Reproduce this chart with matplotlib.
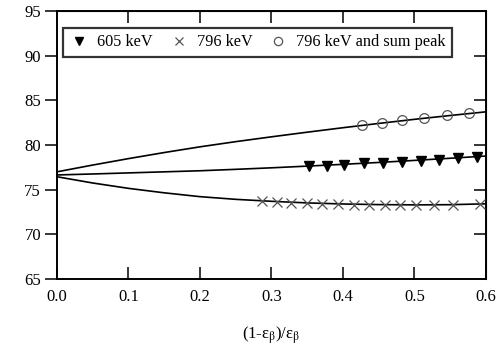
import matplotlib
matplotlib.use("Agg")
import matplotlib.pyplot as plt

plt.rcParams['font.family'] = ['Liberation Serif', 'DejaVu Serif']
plt.rcParams['mathtext.fontset'] = 'stix'

# fitted curves
curva_x = [0.0, 0.05, 0.1, 0.15, 0.2, 0.25, 0.3, 0.35, 0.4, 0.45, 0.5, 0.55, 0.6]
curva_suma = [77.0, 77.76, 78.48, 79.16, 79.8, 80.38, 80.92, 81.44, 81.94, 82.42, 82.88, 83.31, 83.72]
curva_605 = [76.65, 76.76, 76.88, 77.0, 77.12, 77.28, 77.45, 77.64, 77.84, 78.05, 78.28, 78.52, 78.77]
curva_796 = [76.45, 75.75, 75.15, 74.65, 74.22, 73.92, 73.7, 73.52, 73.4, 73.33, 73.3, 73.32, 73.42]

# measured points
x_605 = [0.352, 0.377, 0.402, 0.429, 0.456, 0.482, 0.509, 0.535, 0.561, 0.588]
y_605 = [77.6, 77.65, 77.75, 77.95, 78.02, 78.13, 78.24, 78.32, 78.5, 78.62]

x_796 = [0.287, 0.308, 0.327, 0.350, 0.370, 0.393, 0.416, 0.437, 0.459, 0.480, 0.502, 0.528, 0.554, 0.592]
y_796 = [73.77, 73.65, 73.55, 73.47, 73.43, 73.38, 73.34, 73.31, 73.29, 73.28, 73.28, 73.28, 73.27, 73.36]

x_suma = [0.427, 0.4545, 0.483, 0.514, 0.545, 0.576]
y_suma = [82.24, 82.5, 82.8, 83.06, 83.33, 83.62]

fig = plt.figure(figsize=(5.02, 3.47), dpi=100)
ax = fig.add_axes([0.1135, 0.196, 0.8545, 0.772])

for cy in (curva_suma, curva_605, curva_796):
    ax.plot(curva_x, cy, color='black', lw=1.2, zorder=2)

ax.plot(x_605, y_605, 'v', color='black', ms=7, ls='none', label='605 keV', zorder=3)
ax.plot(x_796, y_796, 'x', color='#555555', ms=7, mew=0.9, ls='none', label='796 keV', zorder=3)
ax.plot(x_suma, y_suma, 'o', mfc='none', mec='#555555', ms=7, mew=0.9, ls='none',
        label='796 keV and sum peak', zorder=3)

ax.set_xlim(0, 0.6)
ax.set_ylim(65, 95)
ax.set_xticks([0.0, 0.1, 0.2, 0.3, 0.4, 0.5, 0.6])
ax.set_yticks([65, 70, 75, 80, 85, 90, 95])
ax.set_xticklabels(['0.0', '0.1', '0.2', '0.3', '0.4', '0.5', '0.6'])

for s in ax.spines.values():
    s.set_linewidth(1.4)

ax.tick_params(axis='x', direction='in', length=8.5, width=1.1, labelsize=12, pad=7)
ax.tick_params(axis='y', direction='out', length=8.5, width=1.1, labelsize=12, pad=3)

arriba = ax.secondary_xaxis('top')
arriba.set_xticks([0.1, 0.2, 0.3, 0.4, 0.5])
arriba.tick_params(direction='in', length=8.5, width=1.1, labeltop=False)
derecha = ax.secondary_yaxis('right')
derecha.set_yticks([70, 75, 80, 85, 90])
derecha.tick_params(direction='in', length=8.5, width=1.1, labelright=False)

ax.set_xlabel(r'(1-ε$_\mathrm{β}$)/ε$_\mathrm{β}$', fontsize=12, labelpad=14)

leg = ax.legend(loc='upper left', bbox_to_anchor=(0.014, 0.937), ncol=3, fontsize=11.7,
                frameon=True, fancybox=False, handletextpad=0.5, columnspacing=1.0,
                borderpad=0.4, handlelength=1.2, borderaxespad=0, markerscale=0.85)
leg.get_frame().set_edgecolor('black')
leg.get_frame().set_linewidth(1.6)

fig.savefig('out.png', dpi=100)
